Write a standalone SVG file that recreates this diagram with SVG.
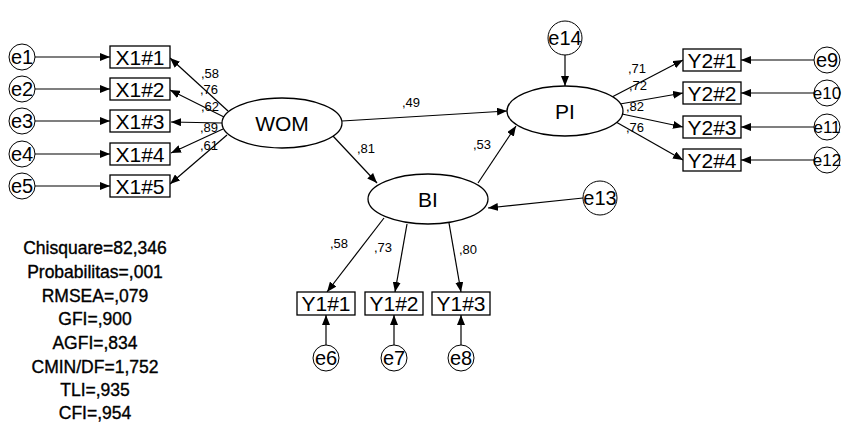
<svg xmlns="http://www.w3.org/2000/svg" width="843" height="434" viewBox="0 0 843 434">
<defs>
<marker id="ah" markerUnits="userSpaceOnUse" markerWidth="11" markerHeight="8" refX="10" refY="4" orient="auto">
<path d="M0,0 L10,4 L0,8 z" fill="#000"/>
</marker>
<style>
text{font-family:"Liberation Sans",Arial,sans-serif;fill:#000}
.box{fill:#fff;stroke:#000;stroke-width:1.3}
.lat{fill:#fff;stroke:#000;stroke-width:1.3}
.err{fill:#fff;stroke:#000;stroke-width:1}
.lb{font-size:21px;text-anchor:middle;dominant-baseline:central}
.el{font-size:20px;text-anchor:middle;dominant-baseline:central}
.es{font-size:17px}
.ln{font-size:21px;text-anchor:middle;dominant-baseline:central}
.cf{font-size:13px}
.st{font-size:17.5px;text-anchor:middle;stroke:#000;stroke-width:0.35}
#connectors line{stroke:#000;stroke-width:1.2;marker-end:url(#ah)}
</style>
</defs>
<rect width="843" height="434" fill="#fff"/>

<g id="connectors">
<line x1="35" y1="57" x2="110" y2="57"/>
<line x1="35" y1="89" x2="110" y2="89"/>
<line x1="35" y1="121" x2="110" y2="121"/>
<line x1="35" y1="154" x2="110" y2="154"/>
<line x1="35" y1="186" x2="110" y2="186"/>
<line x1="228" y1="111" x2="170" y2="58"/>
<line x1="224" y1="117" x2="170" y2="90"/>
<line x1="222" y1="123" x2="171" y2="122"/>
<line x1="223" y1="129" x2="171" y2="153"/>
<line x1="227" y1="135" x2="170" y2="184"/>
<line x1="342" y1="121" x2="507" y2="111"/>
<line x1="333" y1="136" x2="377" y2="183"/>
<line x1="478" y1="183" x2="516" y2="126"/>
<line x1="565" y1="55" x2="565" y2="86"/>
<line x1="583" y1="198" x2="488" y2="208"/>
<line x1="612" y1="97" x2="683" y2="60"/>
<line x1="620" y1="104" x2="683" y2="93"/>
<line x1="622" y1="114" x2="683" y2="127"/>
<line x1="616" y1="122" x2="683" y2="160"/>
<line x1="814" y1="60" x2="741" y2="60"/>
<line x1="814" y1="93" x2="741" y2="93"/>
<line x1="814" y1="127" x2="741" y2="127"/>
<line x1="814" y1="160" x2="741" y2="160"/>
<line x1="384" y1="218" x2="327" y2="292"/>
<line x1="407" y1="224" x2="395" y2="292"/>
<line x1="449" y1="223" x2="461" y2="292"/>
<line x1="326" y1="345" x2="326" y2="315"/>
<line x1="394" y1="345" x2="394" y2="315"/>
<line x1="461" y1="345" x2="461" y2="315"/>
</g>

<g id="e1"><circle class="err" cx="22" cy="57" r="13"/><text class="el" x="22" y="57">e1</text></g>
<g id="e2"><circle class="err" cx="22" cy="89" r="13"/><text class="el" x="22" y="89">e2</text></g>
<g id="e3"><circle class="err" cx="22" cy="121" r="13"/><text class="el" x="22" y="121">e3</text></g>
<g id="e4"><circle class="err" cx="22" cy="154" r="13"/><text class="el" x="22" y="154">e4</text></g>
<g id="e5"><circle class="err" cx="22" cy="186" r="13"/><text class="el" x="22" y="186">e5</text></g>

<g id="X1_1"><rect class="box" x="110" y="46" width="60" height="22"/><text class="lb" x="140" y="57">X1#1</text></g>
<g id="X1_2"><rect class="box" x="110" y="78" width="60" height="22"/><text class="lb" x="140" y="89">X1#2</text></g>
<g id="X1_3"><rect class="box" x="110" y="110" width="60" height="22"/><text class="lb" x="140" y="121">X1#3</text></g>
<g id="X1_4"><rect class="box" x="110" y="143" width="60" height="22"/><text class="lb" x="140" y="154">X1#4</text></g>
<g id="X1_5"><rect class="box" x="110" y="175" width="60" height="22"/><text class="lb" x="140" y="186">X1#5</text></g>

<g id="WOM"><ellipse class="lat" cx="282" cy="123" rx="60" ry="25"/><text class="ln" x="282" y="123">WOM</text></g>
<g id="PI"><ellipse class="lat" cx="565" cy="111" rx="58" ry="25"/><text class="ln" x="565" y="111">PI</text></g>
<g id="BI"><ellipse class="lat" cx="428" cy="199" rx="60" ry="25"/><text class="ln" x="428" y="199">BI</text></g>

<g id="e14"><circle class="err" cx="565" cy="38" r="17"/><text class="el" x="565" y="38">e14</text></g>
<g id="e13"><circle class="err" cx="600" cy="198" r="17"/><text class="el" x="600" y="198">e13</text></g>

<g id="Y2_1"><rect class="box" x="683" y="49" width="58" height="22"/><text class="lb" x="712" y="60">Y2#1</text></g>
<g id="Y2_2"><rect class="box" x="683" y="82" width="58" height="22"/><text class="lb" x="712" y="93">Y2#2</text></g>
<g id="Y2_3"><rect class="box" x="683" y="116" width="58" height="22"/><text class="lb" x="712" y="127">Y2#3</text></g>
<g id="Y2_4"><rect class="box" x="683" y="149" width="58" height="22"/><text class="lb" x="712" y="160">Y2#4</text></g>

<g id="e9"><circle class="err" cx="827" cy="60" r="13"/><text class="el" x="827" y="60">e9</text></g>
<g id="e10"><circle class="err" cx="827" cy="93" r="13"/><text class="el es" x="827" y="93">e10</text></g>
<g id="e11"><circle class="err" cx="827" cy="127" r="13"/><text class="el es" x="827" y="127">e11</text></g>
<g id="e12"><circle class="err" cx="827" cy="160" r="13"/><text class="el es" x="827" y="160">e12</text></g>

<g id="Y1_1"><rect class="box" x="297" y="292" width="58" height="23"/><text class="lb" x="326" y="303.5">Y1#1</text></g>
<g id="Y1_2"><rect class="box" x="365" y="292" width="58" height="23"/><text class="lb" x="394" y="303.5">Y1#2</text></g>
<g id="Y1_3"><rect class="box" x="432" y="292" width="58" height="23"/><text class="lb" x="461" y="303.5">Y1#3</text></g>

<g id="e6"><circle class="err" cx="326" cy="358" r="13"/><text class="el" x="326" y="358">e6</text></g>
<g id="e7"><circle class="err" cx="394" cy="358" r="13"/><text class="el" x="394" y="358">e7</text></g>
<g id="e8"><circle class="err" cx="461" cy="358" r="13"/><text class="el" x="461" y="358">e8</text></g>

<g id="coefficients">
<text class="cf" x="201" y="78">,58</text>
<text class="cf" x="200" y="94">,76</text>
<text class="cf" x="201" y="111">,62</text>
<text class="cf" x="200" y="132">,89</text>
<text class="cf" x="200" y="150">,61</text>
<text class="cf" x="402" y="107">,49</text>
<text class="cf" x="357" y="153">,81</text>
<text class="cf" x="473" y="149">,53</text>
<text class="cf" x="628" y="73">,71</text>
<text class="cf" x="629" y="90">,72</text>
<text class="cf" x="626" y="111">,82</text>
<text class="cf" x="626" y="132">,76</text>
<text class="cf" x="330" y="248">,58</text>
<text class="cf" x="374" y="252">,73</text>
<text class="cf" x="459" y="254">,80</text>
</g>

<g id="fit">
<text class="st" x="95" y="254">Chisquare=82,346</text>
<text class="st" x="95" y="278">Probabilitas=,001</text>
<text class="st" x="95" y="302">RMSEA=,079</text>
<text class="st" x="95" y="325">GFI=,900</text>
<text class="st" x="95" y="349">AGFI=,834</text>
<text class="st" x="95" y="373">CMIN/DF=1,752</text>
<text class="st" x="95" y="396">TLI=,935</text>
<text class="st" x="95" y="419">CFI=,954</text>
</g>
</svg>
